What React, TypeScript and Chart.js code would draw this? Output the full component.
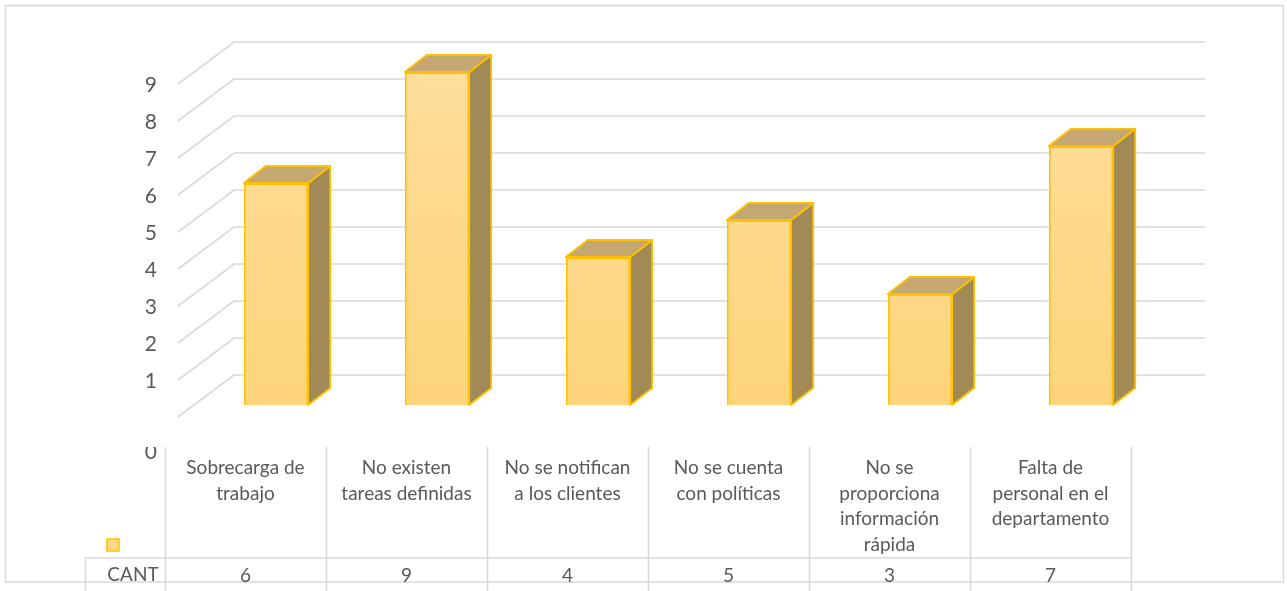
import React, { useEffect, useRef } from "react";
import { Chart, registerables } from "chart.js";

Chart.register(...registerables);

const categories: string[][] = [
  ["Sobrecarga de", "trabajo"],
  ["No existen", "tareas definidas"],
  ["No se notifican", "a los clientes"],
  ["No se cuenta", "con políticas"],
  ["No se", "proporciona", "información", "rápida"],
  ["Falta de", "personal en el", "departamento"],
];
const seriesName = "CANT";
const values = [6, 9, 4, 5, 3, 7];
const yTicks = [0, 1, 2, 3, 4, 5, 6, 7, 8, 9];
const gridValues = [1, 2, 3, 4, 5, 6, 7, 8, 9, 10];

const TEXT = "#595959";
const GRID = "#D9D9D9";
const GOLD = "#FFC000";
const FONT = "Lato, 'Open Sans', sans-serif";

const threeD = {
  id: "threeD",
  beforeDatasetsDraw(chart: any) {
    const { ctx, chartArea, scales } = chart;
    const y = scales.y;
    const x = scales.x;
    ctx.save();
    // chart border
    ctx.strokeStyle = GRID;
    ctx.lineWidth = 1.5;
    ctx.strokeRect(5.5, 5.5, 1278, 576.5);

    // back wall gridlines + side wall diagonals
    const backLeft = chartArea.left + 38.5;
    const backRight = chartArea.right + 43.5;
    ctx.lineWidth = 1.6;
    ctx.strokeStyle = GRID;
    gridValues.forEach((v) => {
      const yb = y.getPixelForValue(v) + 7;
      ctx.beginPath();
      ctx.moveTo(backLeft - 56, yb + 42);
      ctx.lineTo(backLeft, yb);
      ctx.lineTo(backRight, yb);
      ctx.stroke();
    });

    // y labels
    ctx.fillStyle = TEXT;
    ctx.font = `21px ${FONT}`;
    ctx.textAlign = "right";
    ctx.textBaseline = "middle";
    yTicks.forEach((v) => {
      if (v === 0) {
        ctx.save();
        ctx.beginPath();
        ctx.rect(0, 447, 300, 40);
        ctx.clip();
        ctx.fillText(String(v), 157, 452);
        ctx.restore();
      } else {
        ctx.fillText(String(v), 157, y.getPixelForValue(v) + 13);
      }
    });

    // data table
    const half = (x.getPixelForValue(1) - x.getPixelForValue(0)) / 2;
    const shift = -30.5;
    const n = categories.length;
    const colL = (i: number) => x.getPixelForValue(i) - half + shift;
    const tableTop = 447;
    const rowTop = 558;
    ctx.strokeStyle = GRID;
    ctx.lineWidth = 1.6;
    for (let i = 0; i <= n; i++) {
      const cx = Math.round(colL(i)) + 0.5;
      ctx.beginPath();
      ctx.moveTo(cx, tableTop);
      ctx.lineTo(cx, 591);
      ctx.stroke();
    }
    ctx.beginPath();
    ctx.moveTo(85, rowTop);
    ctx.lineTo(colL(n), rowTop);
    ctx.moveTo(85.5, rowTop);
    ctx.lineTo(85.5, 591);
    ctx.stroke();

    ctx.textAlign = "center";
    ctx.textBaseline = "middle";
    ctx.font = `19px ${FONT}`;
    ctx.fillStyle = TEXT;
    categories.forEach((lines, i) => {
      const cx = colL(i) + half;
      lines.forEach((ln, j) => {
        ctx.fillText(ln, cx, 468 + j * 25.5);
      });
      ctx.fillText(String(values[i]), cx, 576);
    });
    ctx.fillText(seriesName, 133, 575);

    // legend key
    ctx.fillStyle = "#FDD98A";
    ctx.fillRect(107, 539, 12, 12);
    ctx.strokeStyle = GOLD;
    ctx.lineWidth = 1.5;
    ctx.strokeRect(107, 539, 12, 12);

    // 3D side + top faces of bars
    const meta = chart.getDatasetMeta(0);
    const dx = 22;
    const dy = -17;
    meta.data.forEach((bar: any) => {
      const { x: bx, y: by, base, width } = bar.getProps(["x", "y", "base", "width"], true);
      const l = bx - width / 2;
      const r = bx + width / 2;
      ctx.lineJoin = "round";
      ctx.lineWidth = 1.8;
      ctx.strokeStyle = GOLD;
      // side
      ctx.beginPath();
      ctx.moveTo(r, by);
      ctx.lineTo(r + dx, by + dy);
      ctx.lineTo(r + dx, base + dy);
      ctx.lineTo(r, base);
      ctx.closePath();
      ctx.fillStyle = "#A18A56";
      ctx.fill();
      ctx.stroke();
      // top
      ctx.beginPath();
      ctx.moveTo(l, by);
      ctx.lineTo(l + dx, by + dy);
      ctx.lineTo(r + dx, by + dy);
      ctx.lineTo(r, by);
      ctx.closePath();
      ctx.fillStyle = "#C5A772";
      ctx.fill();
      ctx.stroke();
    });
    ctx.restore();
  },
};

export default function App() {
  const ref = useRef<HTMLCanvasElement | null>(null);
  useEffect(() => {
    document.body.style.margin = "0";
    const canvas = ref.current;
    if (!canvas) return;
    const chart = new Chart(canvas, {
      type: "bar",
      data: {
        labels: categories,
        datasets: [
          {
            label: seriesName,
            data: values,
            backgroundColor: (c: any) => {
              const area = c.chart.chartArea;
              if (!area) return "#FEDA8E";
              const g = c.chart.ctx.createLinearGradient(0, area.top, 0, area.bottom);
              g.addColorStop(0, "#FFDF9F");
              g.addColorStop(1, "#FDD47B");
              return g;
            },
            borderColor: GOLD,
            borderWidth: 2,
            barPercentage: 0.4,
            categoryPercentage: 1,
          },
        ],
      },
      options: {
        responsive: false,
        animation: false,
        layout: { padding: { left: 195.5, right: 125.5, top: 35, bottom: 186 } },
        plugins: { legend: { display: false }, tooltip: { enabled: false } },
        scales: {
          x: { display: false, offset: true },
          y: { display: false, min: 0, max: 10 },
        },
      },
      plugins: [threeD],
    });
    return () => chart.destroy();
  }, []);
  return (
    <div style={{ position: "fixed", left: 0, top: 0, width: 1287, height: 591, background: "#fff" }}>
      <canvas ref={ref} width={1287} height={591} />
    </div>
  );
}
